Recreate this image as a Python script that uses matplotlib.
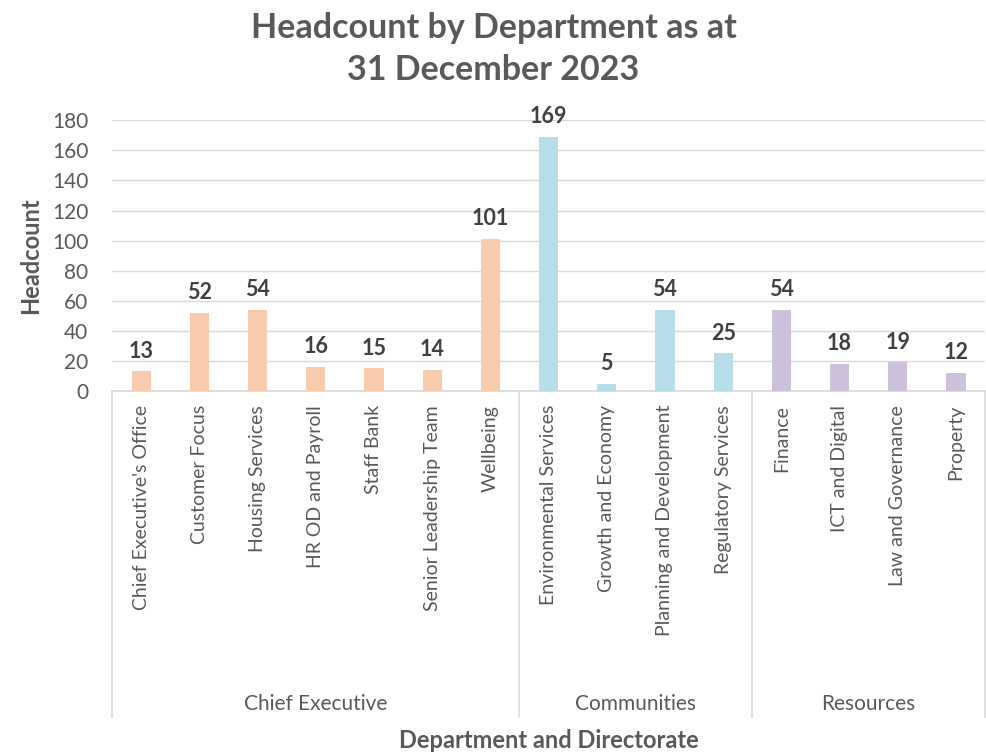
import matplotlib
matplotlib.use("Agg")
import matplotlib.pyplot as plt
import matplotlib.transforms as mtransforms

plt.rcParams['font.family'] = ['Lato', 'DejaVu Sans']

departments = ["Chief Executive's Office", "Customer Focus", "Housing Services",
               "HR OD and Payroll", "Staff Bank", "Senior Leadership Team", "Wellbeing",
               "Environmental Services", "Growth and Economy", "Planning and Development",
               "Regulatory Services",
               "Finance", "ICT and Digital", "Law and Governance", "Property"]
headcount = [13, 52, 54, 16, 15, 14, 101, 169, 5, 54, 25, 54, 18, 19, 12]
directorates = ["Chief Executive", "Communities", "Resources"]
group_sizes = [7, 4, 4]
group_colors = ["#F8CBAD", "#B7DEE8", "#CCC0DA"]
yticks = [0, 20, 40, 60, 80, 100, 120, 140, 160, 180]

text_col = "#595959"
fig = plt.figure(figsize=(9.87, 7.52), dpi=100)
ax = fig.add_axes([0.1135, 0.480, 0.8845, 0.360])

colors = []
for c, n in zip(group_colors, group_sizes):
    colors += [c] * n
x = list(range(len(departments)))
bars = ax.bar(x, headcount, width=0.33, color=colors, zorder=3)
for xi, v in zip(x, headcount):
    ax.annotate(str(v), (xi, v), xytext=(0, 7), textcoords="offset points",
                ha="center", va="bottom", fontsize=15.5, fontweight="bold", color="#404040")

ax.set_xlim(-0.5, len(departments) - 0.5)
ax.set_ylim(0, 180)
ax.set_yticks(yticks)
ax.tick_params(axis="y", length=0, labelsize=15, labelcolor=text_col, pad=17)
ax.grid(axis="y", color="#D9D9D9", linewidth=1, zorder=0)
for s in ["top", "right", "left"]:
    ax.spines[s].set_visible(False)
ax.spines["bottom"].set_color("#D9D9D9")
ax.spines["bottom"].set_linewidth(1.2)
ax.set_xticks(x)
ax.set_xticklabels(departments, rotation=90, fontsize=14, color=text_col, va="top")
ax.tick_params(axis="x", length=0, pad=10)

trans = mtransforms.blended_transform_factory(ax.transData, ax.transAxes)
start = -0.5
bounds = [start]
for n in group_sizes:
    bounds.append(bounds[-1] + n)
for b in bounds:
    ax.plot([b, b], [0, -1.203], transform=trans, color="#D9D9D9", lw=1.2, clip_on=False)
for i, name in enumerate(directorates):
    mid = (bounds[i] + bounds[i + 1]) / 2
    ax.text(mid, -1.155, name, transform=trans, ha="center", va="center",
            fontsize=15, color=text_col)

ax.text(0.5, -1.292, "Department and Directorate", transform=ax.transAxes, ha="center",
        va="center", fontsize=17, fontweight="bold", color=text_col)
fig.text(0.031, 0.660, "Headcount", rotation=90, ha="center", va="center",
         fontsize=17, fontweight="bold", color=text_col)
fig.text(0.5, 0.935, "Headcount by Department as at\n31 December 2023", ha="center",
         va="center", fontsize=24.5, fontweight="bold", color=text_col, linespacing=1.38)

fig.savefig("out.png", dpi=100)
